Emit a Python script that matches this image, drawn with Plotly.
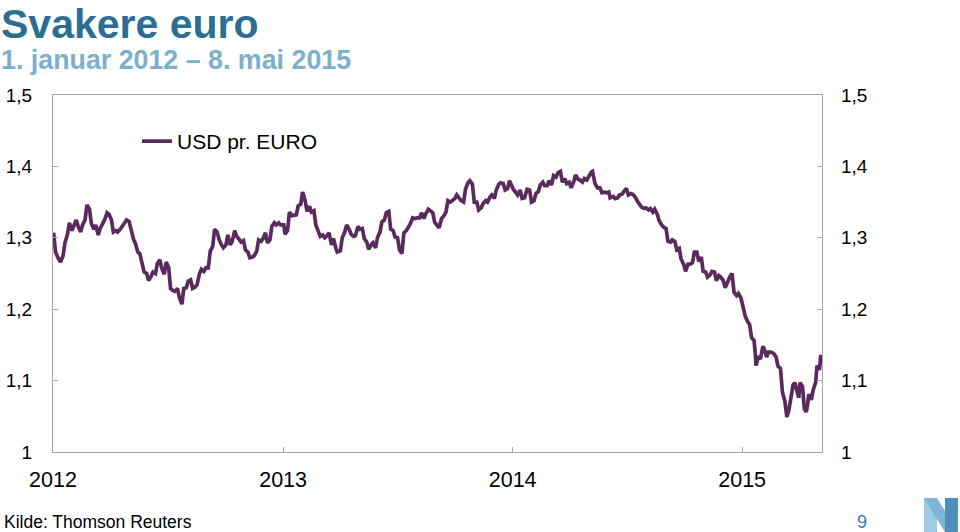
import plotly.graph_objects as go

# ---------------- data ----------------
dates = [
    "2012-01-02","2012-01-05","2012-01-09","2012-01-13","2012-01-17","2012-01-20","2012-01-24","2012-01-27",
    "2012-01-31","2012-02-03","2012-02-07","2012-02-10","2012-02-14","2012-02-17","2012-02-21","2012-02-24",
    "2012-02-28","2012-03-02","2012-03-06","2012-03-09","2012-03-13","2012-03-16","2012-03-20","2012-03-23",
    "2012-03-27","2012-03-30","2012-04-03","2012-04-06","2012-04-10","2012-04-13","2012-04-17","2012-04-20",
    "2012-04-24","2012-04-27","2012-05-01","2012-05-04","2012-05-08","2012-05-11","2012-05-15","2012-05-18",
    "2012-05-22","2012-05-25","2012-05-29","2012-06-01","2012-06-05","2012-06-08","2012-06-12","2012-06-15",
    "2012-06-19","2012-06-22","2012-06-26","2012-06-29","2012-07-03","2012-07-06","2012-07-10","2012-07-13",
    "2012-07-17","2012-07-20","2012-07-24","2012-07-27","2012-07-31","2012-08-03","2012-08-07","2012-08-10",
    "2012-08-14","2012-08-17","2012-08-21","2012-08-24","2012-08-28","2012-08-31","2012-09-04","2012-09-07",
    "2012-09-11","2012-09-14","2012-09-18","2012-09-21","2012-09-25","2012-09-28","2012-10-02","2012-10-05",
    "2012-10-09","2012-10-12","2012-10-16","2012-10-19","2012-10-23","2012-10-26","2012-10-30","2012-11-02",
    "2012-11-06","2012-11-09","2012-11-13","2012-11-16","2012-11-20","2012-11-23","2012-11-27","2012-11-30",
    "2012-12-04","2012-12-07","2012-12-11","2012-12-14","2012-12-18","2012-12-21","2012-12-25","2012-12-28",
    "2013-01-02","2013-01-04","2013-01-08","2013-01-11","2013-01-15","2013-01-18","2013-01-22","2013-01-25",
    "2013-01-29","2013-02-01","2013-02-05","2013-02-08","2013-02-12","2013-02-15","2013-02-19","2013-02-22",
    "2013-02-26","2013-03-01","2013-03-05","2013-03-08","2013-03-12","2013-03-15","2013-03-19","2013-03-22",
    "2013-03-26","2013-03-28","2013-04-02","2013-04-05","2013-04-09","2013-04-12","2013-04-16","2013-04-19",
    "2013-04-23","2013-04-26","2013-04-30","2013-05-03","2013-05-07","2013-05-10","2013-05-14","2013-05-17",
    "2013-05-21","2013-05-24","2013-05-28","2013-05-31","2013-06-04","2013-06-07","2013-06-11","2013-06-14",
    "2013-06-18","2013-06-21","2013-06-25","2013-06-28","2013-07-02","2013-07-05","2013-07-09","2013-07-12",
    "2013-07-16","2013-07-19","2013-07-23","2013-07-26","2013-07-30","2013-08-02","2013-08-06","2013-08-09",
    "2013-08-13","2013-08-16","2013-08-20","2013-08-23","2013-08-27","2013-08-30","2013-09-03","2013-09-06",
    "2013-09-10","2013-09-13","2013-09-17","2013-09-20","2013-09-24","2013-09-27","2013-10-01","2013-10-04",
    "2013-10-08","2013-10-11","2013-10-15","2013-10-18","2013-10-22","2013-10-25","2013-10-29","2013-11-01",
    "2013-11-05","2013-11-08","2013-11-12","2013-11-15","2013-11-19","2013-11-22","2013-11-26","2013-11-29",
    "2013-12-03","2013-12-06","2013-12-10","2013-12-13","2013-12-17","2013-12-20","2013-12-24","2013-12-27",
    "2014-01-02","2014-01-06","2014-01-09","2014-01-13","2014-01-16","2014-01-20","2014-01-24","2014-01-28",
    "2014-01-31","2014-02-04","2014-02-07","2014-02-11","2014-02-14","2014-02-18","2014-02-21","2014-02-25",
    "2014-02-28","2014-03-04","2014-03-07","2014-03-11","2014-03-14","2014-03-18","2014-03-21","2014-03-25",
    "2014-03-28","2014-04-01","2014-04-04","2014-04-08","2014-04-11","2014-04-15","2014-04-18","2014-04-22",
    "2014-04-25","2014-04-29","2014-05-02","2014-05-06","2014-05-08","2014-05-12","2014-05-16","2014-05-20",
    "2014-05-23","2014-05-27","2014-05-30","2014-06-03","2014-06-05","2014-06-10","2014-06-13","2014-06-17",
    "2014-06-20","2014-06-24","2014-06-27","2014-07-01","2014-07-04","2014-07-08","2014-07-11","2014-07-15",
    "2014-07-18","2014-07-22","2014-07-25","2014-07-29","2014-08-01","2014-08-05","2014-08-08","2014-08-12",
    "2014-08-15","2014-08-19","2014-08-22","2014-08-26","2014-08-29","2014-09-02","2014-09-05","2014-09-09",
    "2014-09-12","2014-09-16","2014-09-19","2014-09-23","2014-09-26","2014-09-30","2014-10-03","2014-10-07",
    "2014-10-10","2014-10-14","2014-10-17","2014-10-21","2014-10-24","2014-10-28","2014-10-31","2014-11-04",
    "2014-11-07","2014-11-11","2014-11-14","2014-11-18","2014-11-21","2014-11-25","2014-11-28","2014-12-02",
    "2014-12-05","2014-12-09","2014-12-12","2014-12-16","2014-12-19","2014-12-23","2014-12-26","2014-12-30",
    "2015-01-02","2015-01-06","2015-01-09","2015-01-13","2015-01-16","2015-01-20","2015-01-22","2015-01-23",
    "2015-01-27","2015-01-30","2015-02-03","2015-02-05","2015-02-09","2015-02-12","2015-02-16","2015-02-20",
    "2015-02-24","2015-02-27","2015-03-03","2015-03-06","2015-03-10","2015-03-13","2015-03-16","2015-03-18",
    "2015-03-20","2015-03-23","2015-03-26","2015-03-30","2015-04-01","2015-04-03","2015-04-07","2015-04-10",
    "2015-04-13","2015-04-15","2015-04-17","2015-04-21","2015-04-24","2015-04-28","2015-04-30","2015-05-04",
    "2015-05-06","2015-05-08",
]
usd_per_euro = [
    1.307,1.280,1.272,1.266,1.275,1.293,1.305,1.321,
    1.310,1.318,1.325,1.316,1.308,1.318,1.325,1.346,
    1.340,1.320,1.312,1.318,1.304,1.313,1.320,1.325,
    1.335,1.333,1.325,1.308,1.310,1.308,1.312,1.316,
    1.322,1.325,1.323,1.310,1.298,1.292,1.280,1.278,
    1.265,1.252,1.250,1.240,1.246,1.252,1.250,1.264,
    1.269,1.257,1.249,1.266,1.258,1.229,1.226,1.225,
    1.229,1.216,1.207,1.229,1.230,1.239,1.241,1.229,
    1.231,1.234,1.250,1.256,1.253,1.258,1.258,1.281,
    1.288,1.312,1.308,1.298,1.290,1.286,1.290,1.304,
    1.290,1.295,1.310,1.302,1.298,1.294,1.296,1.283,
    1.280,1.272,1.273,1.275,1.281,1.297,1.295,1.299,
    1.307,1.293,1.297,1.316,1.321,1.318,1.321,1.318,
    1.318,1.305,1.310,1.336,1.331,1.332,1.332,1.345,
    1.347,1.364,1.352,1.337,1.344,1.336,1.338,1.318,
    1.307,1.302,1.304,1.300,1.303,1.307,1.290,1.299,
    1.285,1.280,1.282,1.300,1.308,1.318,1.312,1.305,
    1.302,1.303,1.316,1.312,1.313,1.299,1.294,1.284,
    1.290,1.293,1.286,1.300,1.308,1.322,1.325,1.335,
    1.337,1.312,1.310,1.301,1.300,1.283,1.278,1.307,
    1.310,1.314,1.321,1.328,1.327,1.328,1.328,1.335,
    1.327,1.334,1.340,1.338,1.335,1.322,1.318,1.314,
    1.327,1.330,1.336,1.352,1.350,1.352,1.355,1.360,
    1.356,1.352,1.350,1.368,1.377,1.380,1.375,1.350,
    1.350,1.339,1.342,1.348,1.352,1.350,1.357,1.360,
    1.355,1.367,1.375,1.377,1.376,1.367,1.369,1.380,
    1.368,1.362,1.360,1.367,1.355,1.356,1.368,1.367,
    1.350,1.352,1.362,1.365,1.374,1.378,1.373,1.373,
    1.380,1.374,1.387,1.385,1.391,1.393,1.378,1.383,
    1.376,1.378,1.370,1.378,1.388,1.382,1.381,1.378,
    1.383,1.381,1.387,1.392,1.393,1.376,1.370,1.370,
    1.363,1.364,1.363,1.364,1.356,1.358,1.355,1.356,
    1.360,1.361,1.365,1.369,1.360,1.362,1.361,1.357,
    1.352,1.346,1.343,1.341,1.342,1.339,1.341,1.336,
    1.340,1.333,1.324,1.318,1.315,1.313,1.295,1.294,
    1.297,1.295,1.283,1.285,1.270,1.263,1.253,1.263,
    1.263,1.265,1.280,1.280,1.267,1.273,1.253,1.252,
    1.245,1.248,1.253,1.252,1.240,1.247,1.245,1.240,
    1.230,1.238,1.245,1.250,1.224,1.219,1.222,1.216,
    1.203,1.190,1.184,1.178,1.160,1.156,1.137,1.121,
    1.134,1.130,1.148,1.145,1.133,1.140,1.140,1.138,
    1.133,1.120,1.117,1.084,1.071,1.049,1.057,1.067,
    1.082,1.094,1.097,1.083,1.076,1.097,1.092,1.060,
    1.056,1.066,1.081,1.073,1.087,1.098,1.121,1.115,
    1.136,1.122,
]
series_name = "USD pr. EURO"
x_tick_dates = ["2012-01-01", "2013-01-01", "2014-01-01", "2015-01-01"]
x_tick_labels = ["2012", "2013", "2014", "2015"]
y_ticks = [1.0, 1.1, 1.2, 1.3, 1.4, 1.5]
title_text = "Svakere euro"
subtitle_text = "1. januar 2012 – 8. mai 2015"
source_text = "Kilde: Thomson Reuters"
page_text = "9"

# ---------------- layout geometry ----------------
W, H = 960, 532
L, R, T, B = 53, 822, 95, 452
FONT = "Liberation Sans, Arial, sans-serif"
LINE_COLOR = "#5a2a5e"
FRAME = "#a6a6a6"
TITLE_COLOR = "#2c6e92"
SUB_COLOR = "#7bb0cb"


def px(xp):
    return (xp - L) / (R - L)


def py(yp):
    return (B - yp) / (B - T)


fig = go.Figure()
fig.add_trace(go.Scatter(
    x=dates, y=usd_per_euro, mode="lines", name=series_name,
    line=dict(color=LINE_COLOR, width=3.7), showlegend=True,
))
# helper trace so the right-hand axis is drawn
fig.add_trace(go.Scatter(
    x=dates, y=usd_per_euro, mode="lines", yaxis="y2",
    line=dict(color="rgba(0,0,0,0)", width=0), showlegend=False, hoverinfo="skip",
))

axis_common = dict(
    range=[1.0, 1.5], tickvals=y_ticks, showgrid=False, zeroline=False,
    ticks="inside", ticklen=5, tickcolor=FRAME, showline=True, linecolor=FRAME,
    linewidth=1.3, tickfont=dict(family=FONT, size=19, color="#000"), automargin=False,
)

fig.update_layout(
    width=W, height=H,
    margin=dict(l=L, r=W - R, t=T, b=H - B, pad=0, autoexpand=False),
    paper_bgcolor="white", plot_bgcolor="white",
    separators=", ",
    font=dict(family=FONT, color="#000"),
    xaxis=dict(
        type="date", range=["2012-01-01", "2015-05-08"],
        tickvals=x_tick_dates, ticktext=x_tick_labels, automargin=False,
        showgrid=False, zeroline=False, ticks="inside", ticklen=5, tickcolor=FRAME,
        showline=True, linecolor=FRAME, linewidth=1.3, mirror=True,
        tickfont=dict(family=FONT, size=21.5, color="#000"), ticklabelstandoff=8,
    ),
    yaxis=dict(side="left", ticklabelstandoff=16, **axis_common),
    yaxis2=dict(side="right", overlaying="y", ticklabelstandoff=14, **axis_common),
    legend=dict(
        x=px(137), y=py(121), xanchor="left", yanchor="top",
        bgcolor="rgba(0,0,0,0)", borderwidth=0,
        font=dict(family=FONT, size=21, color="#000"),
    ),
    showlegend=True,
)

header = (
    f"<b><span style='font-size:41px;color:{TITLE_COLOR}'>{title_text}</span></b><br>"
    f"<b><span style='font-size:26.8px;color:{SUB_COLOR}'>{subtitle_text}</span></b>"
)

annotations = [
    dict(text=header, x=px(0), y=py(0), xanchor="left", yanchor="top", align="left",
         borderpad=0, font=dict(family=FONT, size=24, color=TITLE_COLOR)),
    dict(text=source_text, x=px(2), y=py(522), xanchor="left", yanchor="middle",
         font=dict(family=FONT, size=17.5, color="#000")),
    dict(text=page_text, x=px(862), y=py(522), xanchor="center", yanchor="middle",
         font=dict(family=FONT, size=18, color="#3a7ca5")),
]
for a in annotations:
    a.update(xref="paper", yref="paper", showarrow=False)
fig.update_layout(annotations=annotations)

# logo ("N") in bottom-right corner
def path(points):
    return "M " + " L ".join(f"{px(a)},{py(b)}" for a, b in points) + " Z"

fig.add_shape(type="path", xref="paper", yref="paper", line=dict(width=0), fillcolor="#9ccbe3",
              path=path([(924, 498), (937, 498), (937, 532), (924, 532)]))
fig.add_shape(type="path", xref="paper", yref="paper", line=dict(width=0), fillcolor="#7fb5d5",
              path=path([(924, 498), (937, 498), (958, 532), (945, 532)]))
fig.add_shape(type="path", xref="paper", yref="paper", line=dict(width=0), fillcolor="#4f8fb8",
              path=path([(945, 498), (958, 498), (958, 532), (945, 532)]))

fig.write_html("out.html")
